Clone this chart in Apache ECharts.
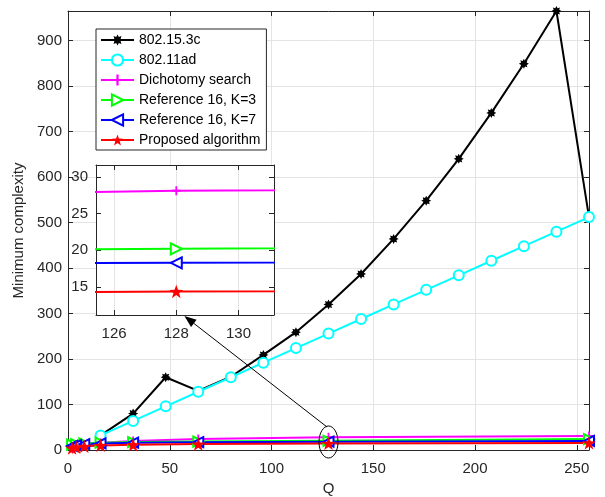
<!DOCTYPE html>
<html>
<head>
<meta charset="utf-8">
<script src="https://cdn.jsdelivr.net/npm/echarts@6/dist/echarts.min.js"></script>
<style>
html,body{margin:0;padding:0;background:#fff;}
#main{width:605px;height:497px;}
</style>
</head>
<body>
<div id="main"></div>
<script>
// ---- data ----
const qStd = [16, 32, 48, 64, 80, 96, 112, 128, 144, 160, 176, 192, 208, 224, 240, 256];
const ieee3c = [32, 80, 160, 130, 161, 209, 259, 320, 387, 464, 548, 640, 741, 849, 965, 512];
const ieeeAd = [32, 64, 96, 128, 160, 192, 224, 256, 288, 320, 352, 384, 416, 448, 480, 512];
const qPow = [2, 4, 8, 16, 32, 64, 128, 256];
const dicho = [4, 8, 12, 16, 20, 24, 28.1, 31];
const ref16k3 = [12, 13, 14.5, 16, 17.5, 18.5, 20.2, 24];
const ref16k7 = [9, 11, 13, 14.5, 16, 17.3, 18.3, 20];
const proposed = [4, 6, 8, 10, 11.5, 13, 14.4, 15.5];
const names = ['802.15.3c', '802.11ad', 'Dichotomy search', 'Reference 16, K=3', 'Reference 16, K=7', 'Proposed algorithm'];
const xTicksMain = [0, 50, 100, 150, 200, 250];
const insetXTicks = [126, 128, 130];
const insetYTicks = [15, 20, 25, 30];

// ---- styling helpers ----
function starPath(n, ro, ri) {
  const pts = [];
  for (let k = 0; k < 2 * n; k++) {
    const a = -Math.PI / 2 + k * Math.PI / n;
    const r = k % 2 ? ri : ro;
    pts.push((r * Math.cos(a)).toFixed(3) + ',' + (r * Math.sin(a)).toFixed(3));
  }
  return 'path://M' + pts.join('L') + 'Z';
}
const symAst = starPath(8, 1, 0.6);
const symPent = starPath(5, 1, 0.40);
const symPlus = 'path://M4,0H6V4H10V6H6V10H4V6H0V4H4Z';
const FONT = '"Liberation Sans", Arial, Helvetica, sans-serif';
const AX = '#262626';
const GRIDC = '#e4e4e4';

function pairs(xs, ys) { return xs.map((x, i) => [x, ys[i]]); }

function mk(name, xs, ys, color, symbol, size, extra, inset) {
  const s = {
    name: name, type: 'line', data: pairs(xs, ys),
    xAxisIndex: inset ? 2 : 0, yAxisIndex: inset ? 2 : 0,
    symbol: symbol, symbolSize: size, symbolKeepAspect: true, showAllSymbol: true,
    lineStyle: { color: color, width: 2 },
    itemStyle: { color: color },
    clip: true, animation: false, z: inset ? 6 : 2
  };
  return Object.assign(s, extra || {});
}

const mainSeries = [
  mk(names[0], qStd, ieee3c, '#000000', symAst, 10),
  mk(names[1], qStd, ieeeAd, '#00ffff', 'emptyCircle', 10, { itemStyle: { color: '#00ffff', borderWidth: 2 } }),
  mk(names[2], qPow, dicho, '#ff00ff', symPlus, 9),
  mk(names[3], qPow, ref16k3, '#00ff00', 'emptyTriangle', 10, { symbolRotate: -90, itemStyle: { color: '#00ff00', borderWidth: 2 } }),
  mk(names[4], qPow, ref16k7, '#0000ff', 'emptyTriangle', 10, { symbolRotate: 90, itemStyle: { color: '#0000ff', borderWidth: 2 } }),
  mk(names[5], qPow, proposed, '#ff0000', symPent, 14)
];
const insetSeries = [
  mk(names[2], qPow, dicho, '#ff00ff', symPlus, 9, null, true),
  mk(names[3], qPow, ref16k3, '#00ff00', 'emptyTriangle', 11, { symbolRotate: -90, itemStyle: { color: '#00ff00', borderWidth: 2 } }, true),
  mk(names[4], qPow, ref16k7, '#0000ff', 'emptyTriangle', 11, { symbolRotate: 90, itemStyle: { color: '#0000ff', borderWidth: 2 } }, true),
  mk(names[5], qPow, proposed, '#ff0000', symPent, 14, null, true)
];

const lbl = { color: AX, fontSize: 15, fontFamily: FONT };
const axLine = { show: true, onZero: false, lineStyle: { color: AX, width: 1 } };
const tickIn = { show: true, inside: true, length: 5, lineStyle: { color: AX } };

const option = {
  animation: false,
  backgroundColor: '#fff',
  textStyle: { fontFamily: FONT },
  grid: [
    { left: 68, right: 16, top: 11, bottom: 47, containLabel: false, outerBoundsMode: 'none' },
    { left: 96, top: 165, width: 178, height: 150, show: true, backgroundColor: '#fff', borderWidth: 0, z: 4, outerBoundsMode: 'none' }
  ],
  legend: {
    data: names, orient: 'vertical', left: 96, top: 29,
    itemWidth: 33, itemHeight: 14, itemGap: 6, itemTextGap: 6,
    padding: [4, 6, 3, 4],
    borderColor: AX, borderWidth: 1, backgroundColor: '#fff',
    textStyle: { fontSize: 14, color: '#000', fontFamily: FONT },
    selectedMode: false, z: 10
  },
  xAxis: [
    { type: 'value', gridIndex: 0, min: 0, max: 256, interval: 50, position: 'bottom',
      axisLine: axLine, axisTick: tickIn,
      axisLabel: Object.assign({ margin: 11, customValues: xTicksMain }, lbl),
      splitLine: { show: true, lineStyle: { color: GRIDC } },
      name: 'Q', nameLocation: 'middle', nameGap: 31,
      nameTextStyle: { color: AX, fontSize: 15, fontFamily: FONT } },
    { type: 'value', gridIndex: 0, min: 0, max: 256, interval: 50, position: 'top',
      axisLine: axLine, axisTick: tickIn, axisLabel: { show: false }, splitLine: { show: false } },
    { type: 'value', gridIndex: 1, min: 125.42, max: 131.14, position: 'bottom', z: 5,
      axisLine: axLine, axisTick: Object.assign({ customValues: insetXTicks }, tickIn),
      axisLabel: Object.assign({ margin: 11, customValues: insetXTicks }, lbl),
      splitLine: { show: true, lineStyle: { color: GRIDC } } },
    { type: 'value', gridIndex: 1, min: 125.42, max: 131.14, position: 'top', z: 5,
      axisLine: axLine, axisTick: Object.assign({ customValues: insetXTicks }, tickIn),
      axisLabel: { show: false }, splitLine: { show: false } }
  ],
  yAxis: [
    { type: 'value', gridIndex: 0, min: 0, max: 965, interval: 100, position: 'left',
      axisLine: axLine, axisTick: tickIn,
      axisLabel: Object.assign({ margin: 6, showMaxLabel: false }, lbl),
      splitLine: { show: true, lineStyle: { color: GRIDC } },
      name: 'Minimum complexity', nameLocation: 'middle', nameGap: 40,
      nameTextStyle: { color: AX, fontSize: 15, fontFamily: FONT } },
    { type: 'value', gridIndex: 0, min: 0, max: 965, interval: 100, position: 'right',
      axisLine: axLine, axisTick: tickIn, axisLabel: { show: false }, splitLine: { show: false } },
    { type: 'value', gridIndex: 1, min: 11.2, max: 31.6, position: 'left', z: 5,
      axisLine: axLine, axisTick: Object.assign({ customValues: insetYTicks }, tickIn),
      axisLabel: Object.assign({ margin: 8, customValues: insetYTicks }, lbl),
      splitLine: { show: false } },
    { type: 'value', gridIndex: 1, min: 11.2, max: 31.6, position: 'right', z: 5,
      axisLine: axLine, axisTick: Object.assign({ customValues: insetYTicks }, tickIn),
      axisLabel: { show: false }, splitLine: { show: false } }
  ],
  series: mainSeries.concat(insetSeries)
};

const chart = echarts.init(document.getElementById('main'), null, { renderer: 'canvas' });
chart.setOption(option);

// annotation: ellipse around Q=128 and arrow to inset
const c = chart.convertToPixel({ gridIndex: 0 }, [128, 17.6]);
const tip = chart.convertToPixel({ gridIndex: 1 }, [128.26, 11.2]);
const tail = [c[0] - 1.5, c[1] - 15];
const tipPt = [tip[0], tip[1] + 1];
const dx = tipPt[0] - tail[0], dy = tipPt[1] - tail[1];
const L = Math.sqrt(dx * dx + dy * dy);
const ux = dx / L, uy = dy / L;
const hl = 12, hw = 4.5;
const bx = tipPt[0] - ux * hl, by = tipPt[1] - uy * hl;
chart.setOption({
  graphic: [
    { type: 'ellipse', shape: { cx: c[0], cy: c[1], rx: 9.5, ry: 16 },
      style: { fill: 'none', stroke: '#000', lineWidth: 1 }, z: 20 },
    { type: 'line', shape: { x1: tail[0], y1: tail[1], x2: bx, y2: by },
      style: { stroke: '#000', lineWidth: 1 }, z: 20 },
    { type: 'polygon', shape: { points: [tipPt, [bx - uy * hw, by + ux * hw], [bx + uy * hw, by - ux * hw]] },
      style: { fill: '#000' }, z: 20 }
  ]
});
</script>
</body>
</html>
